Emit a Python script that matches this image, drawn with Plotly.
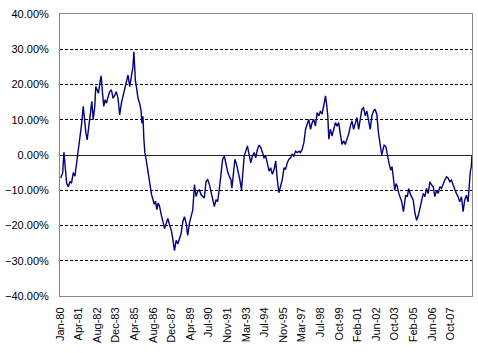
import plotly.graph_objects as go

# decimal-year positions and values (%)
years = [
    1980.05, 1980.19, 1980.28, 1980.38, 1980.47, 1980.59, 1980.71, 1980.82, 1980.94, 1981.06,
    1981.18, 1981.30, 1981.41, 1981.53, 1981.65, 1981.72, 1981.84, 1981.93, 1982.05, 1982.17,
    1982.26, 1982.36, 1982.47, 1982.54, 1982.64, 1982.73, 1982.83, 1982.92, 1983.02, 1983.11,
    1983.20, 1983.30, 1983.42, 1983.53, 1983.65, 1983.77, 1983.89, 1984.00, 1984.12, 1984.24,
    1984.36, 1984.48, 1984.59, 1984.71, 1984.83, 1984.95, 1985.06, 1985.18, 1985.25, 1985.35,
    1985.44, 1985.54, 1985.65, 1985.75, 1985.82, 1985.89, 1985.96, 1986.03, 1986.12, 1986.22,
    1986.31, 1986.41, 1986.50, 1986.60, 1986.69, 1986.78, 1986.88, 1986.97, 1987.07, 1987.16,
    1987.26, 1987.35, 1987.43, 1987.54, 1987.66, 1987.78, 1987.90, 1988.01, 1988.13, 1988.25,
    1988.37, 1988.49, 1988.60, 1988.72, 1988.84, 1988.96, 1989.07, 1989.19, 1989.31, 1989.43,
    1989.55, 1989.66, 1989.78, 1989.90, 1990.02, 1990.13, 1990.25, 1990.37, 1990.49, 1990.61,
    1990.72, 1990.84, 1990.96, 1991.08, 1991.19, 1991.31, 1991.43, 1991.55, 1991.67, 1991.78,
    1991.90, 1992.02, 1992.14, 1992.21, 1992.33, 1992.42, 1992.54, 1992.66, 1992.77, 1992.89,
    1992.99, 1993.08, 1993.20, 1993.31, 1993.43, 1993.55, 1993.67, 1993.79, 1993.90, 1994.02,
    1994.14, 1994.26, 1994.38, 1994.49, 1994.61, 1994.73, 1994.85, 1994.96, 1995.08, 1995.20,
    1995.32, 1995.43, 1995.55, 1995.67, 1995.79, 1995.91, 1996.02, 1996.14, 1996.26, 1996.38,
    1996.49, 1996.61, 1996.73, 1996.85, 1996.97, 1997.08, 1997.20, 1997.32, 1997.44, 1997.55,
    1997.67, 1997.79, 1997.91, 1998.03, 1998.14, 1998.26, 1998.38, 1998.50, 1998.61, 1998.73,
    1998.85, 1998.92, 1999.02, 1999.09, 1999.20, 1999.32, 1999.44, 1999.56, 1999.67, 1999.79,
    1999.91, 2000.03, 2000.15, 2000.26, 2000.38, 2000.50, 2000.62, 2000.73, 2000.85, 2000.97,
    2001.09, 2001.21, 2001.32, 2001.44, 2001.56, 2001.68, 2001.79, 2001.91, 2002.03, 2002.15,
    2002.27, 2002.38, 2002.50, 2002.62, 2002.74, 2002.85, 2002.93, 2003.02, 2003.14, 2003.25,
    2003.37, 2003.49, 2003.58, 2003.68, 2003.77, 2003.87, 2003.96, 2004.06, 2004.15, 2004.27,
    2004.39, 2004.46, 2004.55, 2004.67, 2004.76, 2004.86, 2004.97, 2005.09, 2005.21, 2005.33,
    2005.45, 2005.56, 2005.68, 2005.80, 2005.92, 2006.03, 2006.15, 2006.27, 2006.39, 2006.51,
    2006.62, 2006.74, 2006.86, 2006.98, 2007.09, 2007.21, 2007.33, 2007.45, 2007.57, 2007.68,
    2007.80, 2007.92, 2008.04, 2008.15, 2008.27, 2008.39, 2008.51, 2008.63, 2008.74, 2008.86,
    2008.98, 2009.05, 2009.14, 2009.21, 2009.26,
]
values = [
    -6.5, -5.0, 0.8, -3.0, -8.0, -9.0, -7.5, -8.0, -5.0, -6.0,
    -2.3, 0.0, 4.3, 8.6, 13.8, 10.0, 6.2, 4.3, 9.0, 12.4,
    15.2, 10.0, 13.8, 19.4, 18.5, 17.5, 20.4, 22.5, 17.5, 13.8,
    15.7, 14.7, 16.6, 18.0, 18.5, 16.1, 17.0, 18.0, 16.1, 11.4,
    14.7, 16.6, 18.5, 20.4, 22.7, 19.4, 22.3, 25.0, 29.3, 21.3,
    19.0, 16.1, 14.7, 12.8, 9.0, 11.0, 4.3, 0.6, -1.3, -3.7,
    -7.0, -8.9, -11.2, -12.6, -14.0, -13.1, -15.5, -13.6, -14.5, -16.4,
    -18.3, -19.7, -20.9, -19.4, -18.0, -19.9, -21.3, -23.7, -27.1, -24.2,
    -25.2, -23.7, -22.3, -19.0, -17.5, -19.4, -22.8, -19.4, -17.5, -15.6,
    -8.4, -11.8, -10.3, -9.9, -11.3, -11.8, -12.2, -7.5, -7.0, -8.4,
    -10.3, -12.7, -14.6, -12.7, -13.2, -9.9, -5.1, -1.2, -0.3, -2.7,
    -4.6, -6.0, -7.0, -9.4, -5.6, -1.2, -2.7, -4.6, -7.0, -9.9,
    -5.1, -0.3, 1.1, 2.6, 0.2, -2.2, -0.3, 0.7, -0.8, 1.6,
    2.8, 2.1, 0.7, -0.8, -0.3, -2.2, -4.6, -3.6, -5.5, -4.1,
    -1.7, -6.9, -10.7, -8.8, -6.9, -3.6, -4.1, -2.2, -1.2, -0.8,
    0.2, -0.3, 1.1, 0.7, 1.1, 0.7, 1.6, 3.5, 7.3, 8.7,
    10.1, 7.3, 9.2, 10.1, 8.2, 12.0, 11.1, 12.5, 11.6, 13.9,
    16.8, 14.9, 11.1, 4.5, 7.3, 5.4, 7.8, 9.2, 8.2, 9.2,
    5.9, 3.0, 4.0, 3.0, 4.5, 5.9, 8.2, 9.7, 7.3, 8.7,
    10.6, 7.3, 10.1, 13.0, 13.4, 11.1, 12.5, 9.7, 7.3, 11.1,
    12.5, 13.0, 11.5, 6.2, 2.8, 0.0, 1.4, 2.8, 2.4, -0.5,
    -2.4, -4.3, -3.3, -6.6, -10.0, -8.1, -9.0, -10.9, -11.8, -13.3,
    -16.1, -13.3, -11.4, -11.8, -9.5, -10.9, -11.8, -12.8, -16.6, -18.5,
    -17.1, -15.2, -13.3, -10.9, -11.8, -9.5, -10.9, -7.6, -8.5, -9.0,
    -11.8, -10.0, -10.9, -9.0, -9.5, -8.1, -7.1, -6.2, -6.6, -7.6,
    -7.1, -8.5, -10.0, -10.9, -11.8, -13.3, -11.8, -16.1, -12.8, -11.4,
    -13.3, -8.1, -4.7, -3.3, 0.0,
]

tick_labels = ["Jan-80", "Apr-81", "Aug-82", "Dec-83", "Apr-85", "Aug-86", "Dec-87",
               "Apr-89", "Jul-90", "Nov-91", "Mar-93", "Jul-94", "Nov-95", "Mar-97",
               "Jul-98", "Oct-99", "Feb-01", "Jun-02", "Oct-03", "Feb-05", "Jun-06",
               "Oct-07"]
y_ticks = [-40, -30, -20, -10, 0, 10, 20, 30, 40]

step = (2007.75 - 1980.0) / (len(tick_labels) - 1)
tick_pos = [1980.0 + i * step for i in range(len(tick_labels))]

fig = go.Figure()
fig.add_trace(go.Scatter(x=years, y=values, mode="lines",
                         line=dict(color="#000080", width=1.4), showlegend=False))

font = dict(family="Liberation Sans, Arial, sans-serif", size=11, color="#000000")

fig.update_layout(
    width=478, height=353,
    margin=dict(l=59, r=5, t=14, b=57),
    paper_bgcolor="white", plot_bgcolor="white",
    font=font,
    xaxis=dict(range=[1980.0, 2009.26], tickvals=tick_pos, ticktext=tick_labels,
               tickangle=-90, showgrid=False, zeroline=False,
               showline=True, linecolor="#888888", linewidth=1, mirror=True,
               ticks="", ticklabelstandoff=6, tickfont=font),
    yaxis=dict(range=[-40, 40], tickvals=y_ticks,
               ticktext=[("\u2212" if v < 0 else "") + f"{abs(v):.2f}%" for v in y_ticks],
               showgrid=True, gridcolor="#000000", gridwidth=1, griddash="3px,2px",
               zeroline=True, zerolinecolor="#222222", zerolinewidth=1,
               showline=True, linecolor="#888888", linewidth=1, mirror=True,
               ticks="", ticklabelstandoff=8, tickfont=font),
)

fig.write_html("out.html")
